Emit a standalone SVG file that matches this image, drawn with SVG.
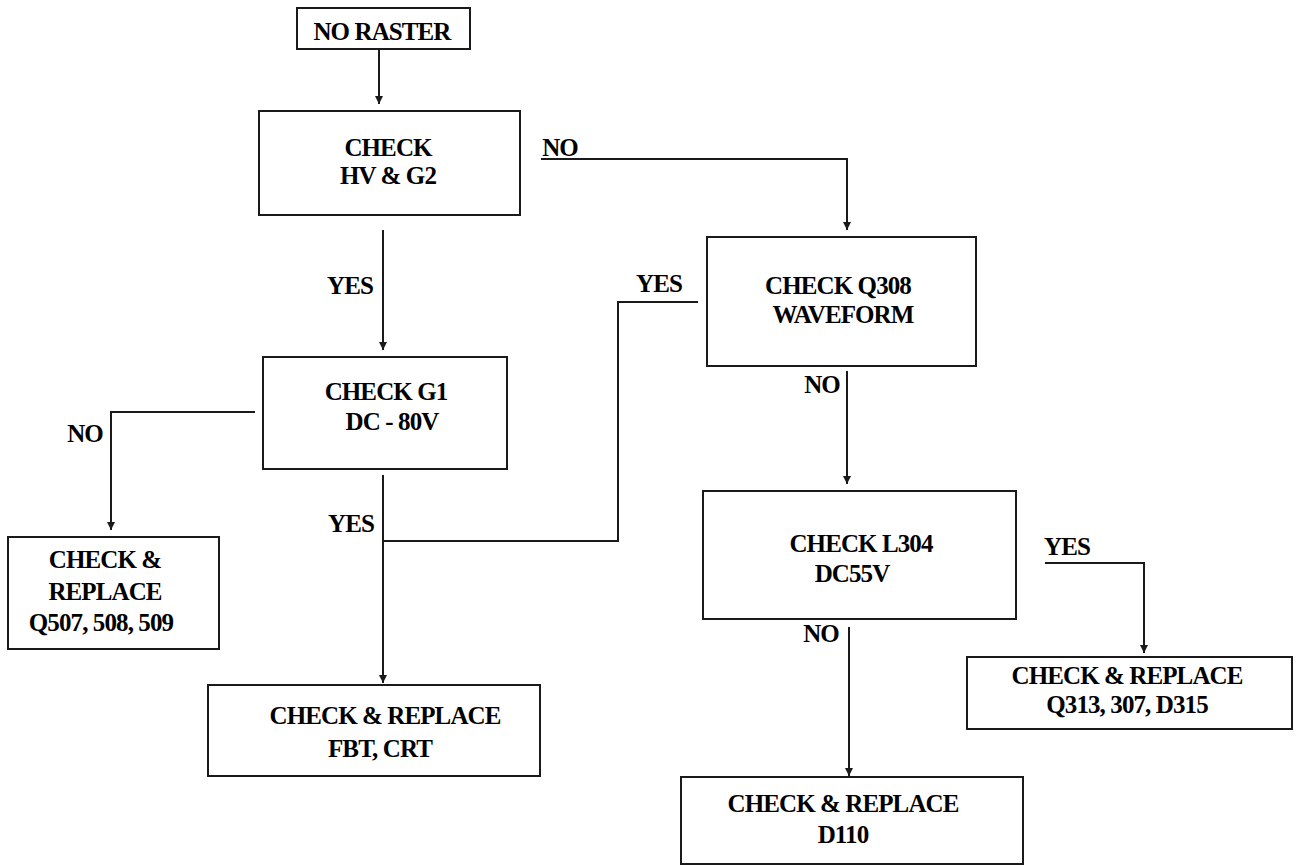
<svg xmlns="http://www.w3.org/2000/svg" width="1298" height="865" viewBox="0 0 1298 865">
<style>
  .box { fill: #fff; stroke: #1a1a1a; stroke-width: 2; }
  .t { font-family: "Liberation Serif", "Times New Roman", serif; font-weight: bold; font-size: 25px; letter-spacing: -0.9px; fill: #000; text-anchor: middle; }
  .lbl { font-family: "Liberation Serif", "Times New Roman", serif; font-weight: bold; font-size: 25px; letter-spacing: -0.9px; fill: #000; text-anchor: middle; }
  .c { fill: none; stroke: #1a1a1a; stroke-width: 2; marker-end: url(#arr); }
  .c2 { fill: none; stroke: #1a1a1a; stroke-width: 2; }
</style>
<defs>
  <marker id="arr" markerUnits="userSpaceOnUse" markerWidth="10" markerHeight="10" refX="9" refY="5" orient="auto" viewBox="0 0 10 10">
    <path d="M1,1 L9,5 L1,9 z" fill="#1a1a1a"/>
  </marker>
</defs>
<rect width="1298" height="865" fill="#fff"/>

<g id="connectors">
  <path class="c" d="M379,49 V104"/>
  <path class="c" d="M383,230 V350"/>
  <path class="c" d="M541,159 H847 V230"/>
  <path class="c" d="M255,412 H111 V530"/>
  <path class="c" d="M383,475 V683"/>
  <path class="c2" d="M383,541 H618 V302 H698"/>
  <path class="c" d="M847,371 V484"/>
  <path class="c" d="M849,627 V776"/>
  <path class="c" d="M1045,563 H1144 V653"/>
</g>

<g id="labels">
  <text class="lbl" x="560" y="156">NO</text>
  <text class="lbl" x="350" y="294">YES</text>
  <text class="lbl" x="85" y="442">NO</text>
  <text class="lbl" x="351" y="532">YES</text>
  <text class="lbl" x="659" y="292">YES</text>
  <text class="lbl" x="822" y="393">NO</text>
  <text class="lbl" x="821" y="642">NO</text>
  <text class="lbl" x="1067" y="555">YES</text>
</g>

<g id="no-raster">
  <rect class="box" x="297" y="8" width="173" height="41"/>
  <text class="t" x="382" y="40">NO RASTER</text>
</g>
<g id="check-hv-g2">
  <rect class="box" x="259" y="111" width="261" height="104"/>
  <text class="t" x="388" y="156">CHECK</text>
  <text class="t" x="388" y="184">HV &amp; G2</text>
</g>
<g id="check-g1">
  <rect class="box" x="263" y="357" width="244" height="112"/>
  <text class="t" x="386" y="400">CHECK G1</text>
  <text class="t" x="392" y="430">DC - 80V</text>
</g>
<g id="replace-q507">
  <rect class="box" x="8" y="537" width="211" height="112"/>
  <text class="t" x="105" y="568">CHECK &amp;</text>
  <text class="t" x="105" y="600">REPLACE</text>
  <text class="t" x="101" y="631">Q507, 508, 509</text>
</g>
<g id="replace-fbt">
  <rect class="box" x="208" y="685" width="332" height="91"/>
  <text class="t" x="385" y="724">CHECK &amp; REPLACE</text>
  <text class="t" x="380" y="757">FBT, CRT</text>
</g>
<g id="check-q308">
  <rect class="box" x="707" y="237" width="269" height="129"/>
  <text class="t" x="838" y="294">CHECK Q308</text>
  <text class="t" x="843" y="323">WAVEFORM</text>
</g>
<g id="check-l304">
  <rect class="box" x="703" y="491" width="313" height="128"/>
  <text class="t" x="861" y="552">CHECK L304</text>
  <text class="t" x="852" y="582">DC55V</text>
</g>
<g id="replace-q313">
  <rect class="box" x="967" y="657" width="325" height="72"/>
  <text class="t" x="1127" y="684">CHECK &amp; REPLACE</text>
  <text class="t" x="1127" y="713">Q313, 307, D315</text>
</g>
<g id="replace-d110">
  <rect class="box" x="681" y="777" width="342" height="87"/>
  <text class="t" x="843" y="812">CHECK &amp; REPLACE</text>
  <text class="t" x="843" y="843">D110</text>
</g>
</svg>
